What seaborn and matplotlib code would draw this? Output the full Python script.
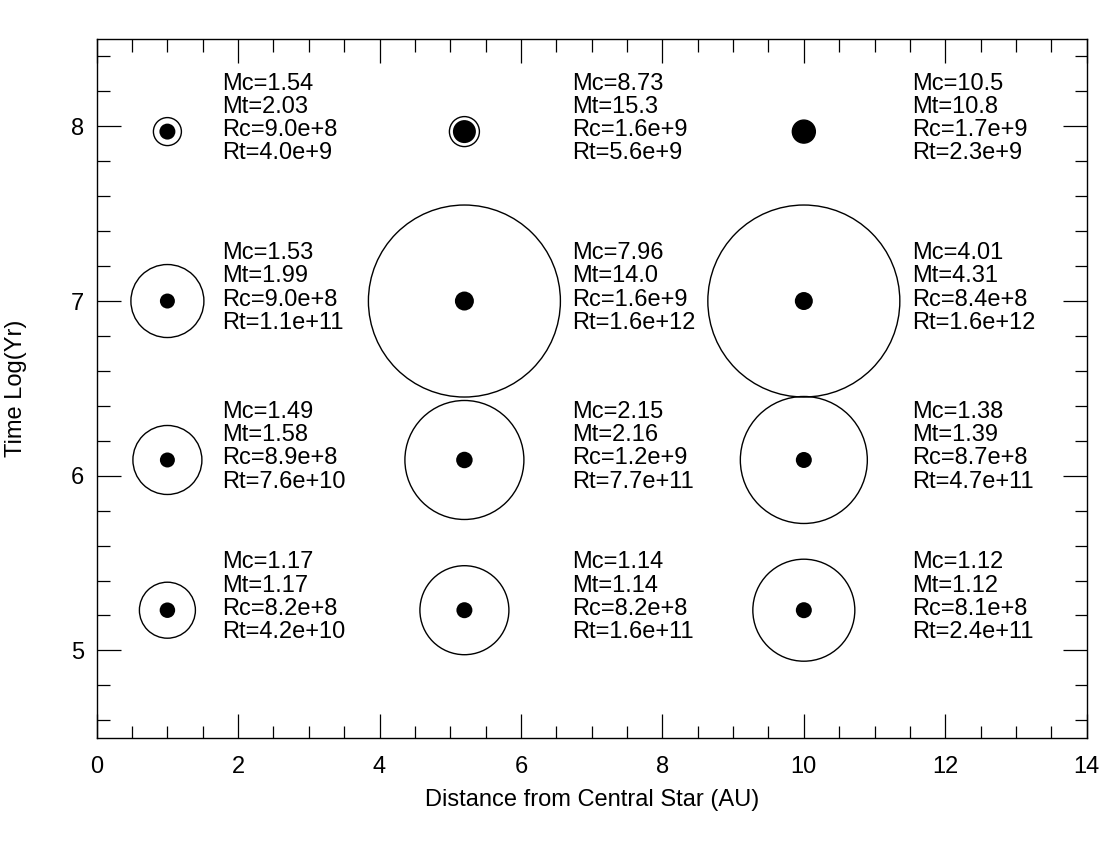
import matplotlib
matplotlib.use("Agg")
import matplotlib.pyplot as plt
from matplotlib.ticker import MultipleLocator
import numpy as np
import pandas as pd
import seaborn as sns

### Data ###

distance = [1.0, 5.2, 10.0]                 # AU
log_time = [5.23, 6.09, 7.0, 7.97]          # log10(yr)

# per row (time), per column (distance)
mc = [["1.17", "1.14", "1.12"],
      ["1.49", "2.15", "1.38"],
      ["1.53", "7.96", "4.01"],
      ["1.54", "8.73", "10.5"]]
mt = [["1.17", "1.14", "1.12"],
      ["1.58", "2.16", "1.39"],
      ["1.99", "14.0", "4.31"],
      ["2.03", "15.3", "10.8"]]
rc = [["8.2e+8", "8.2e+8", "8.1e+8"],
      ["8.9e+8", "1.2e+9", "8.7e+8"],
      ["9.0e+8", "1.6e+9", "8.4e+8"],
      ["9.0e+8", "1.6e+9", "1.7e+9"]]
rt = [["4.2e+10", "1.6e+11", "2.4e+11"],
      ["7.6e+10", "7.7e+11", "4.7e+11"],
      ["1.1e+11", "1.6e+12", "1.6e+12"],
      ["4.0e+9", "5.6e+9", "2.3e+9"]]

# drawn symbol diameters (pixels) as seen in the figure
core_diam = [[15.5, 16, 16],
             [15, 16.5, 16],
             [15, 19, 18],
             [16, 23, 23]]
envelope_diam = [[56, 89, 102],
                 [69, 119, 127],
                 [73, 192, 192],
                 [28, 30, 23]]

### Build table ###

rows = []
for i, t in enumerate(log_time):
    for j, d in enumerate(distance):
        rows.append({
            "distance": d, "log_time": t,
            "label": f"Mc={mc[i][j]}\nMt={mt[i][j]}\nRc={rc[i][j]}\nRt={rt[i][j]}",
            "core": core_diam[i][j], "envelope": envelope_diam[i][j],
        })
df = pd.DataFrame(rows)

px_to_pt = 72 / 100

### Plot ###

sns.set_style("ticks")
plt.rcParams["font.family"] = ["Liberation Sans", "DejaVu Sans"]
plt.rcParams["text.color"] = "black"
plt.rcParams["axes.labelcolor"] = "black"
plt.rcParams["xtick.labelcolor"] = "black"
plt.rcParams["ytick.labelcolor"] = "black"

fig = plt.figure(figsize=(11, 8.5), dpi=100)
ax = fig.add_axes([0.0879, 0.1321, 0.9, 0.822])

sns.scatterplot(data=df, x="distance", y="log_time", ax=ax,
                s=(df["envelope"] * px_to_pt) ** 2, facecolor="none",
                edgecolor="black", linewidth=1.0, legend=False, zorder=2)
sns.scatterplot(data=df, x="distance", y="log_time", ax=ax,
                s=(df["core"] * px_to_pt) ** 2, color="black",
                edgecolor="black", linewidth=0, legend=False, zorder=3)

text_offset = {1.0: 0.77, 5.2: 1.52, 10.0: 1.53}
for _, r in df.iterrows():
    ax.text(r["distance"] + text_offset[r["distance"]], r["log_time"] + 0.075,
            r["label"], fontsize=17, ha="left", va="center", linespacing=1.07,
            color="black")

ax.set_xlim(0, 14)
ax.set_ylim(4.5, 8.5)
ax.xaxis.set_major_locator(MultipleLocator(2))
ax.xaxis.set_minor_locator(MultipleLocator(0.5))
ax.yaxis.set_major_locator(MultipleLocator(1))
ax.yaxis.set_minor_locator(MultipleLocator(0.2))
ax.set_yticks([5, 6, 7, 8])
ax.tick_params(which="both", direction="in", top=True, right=True,
               width=0.9, color="black", labelsize=17, labelcolor="black")
ax.tick_params(which="major", length=17)
ax.tick_params(which="minor", length=9)
ax.tick_params(axis="x", pad=13)
ax.tick_params(axis="y", pad=9)
for sp in ax.spines.values():
    sp.set_linewidth(1.0)
    sp.set_color("black")

ax.set_xlabel("Distance from Central Star (AU)", fontsize=17, labelpad=8,
              color="black")
ax.set_ylabel("Time Log(Yr)", fontsize=17, color="black")
ax.yaxis.set_label_coords(-0.07, 0.5)

fig.savefig("out.png", dpi=100)
